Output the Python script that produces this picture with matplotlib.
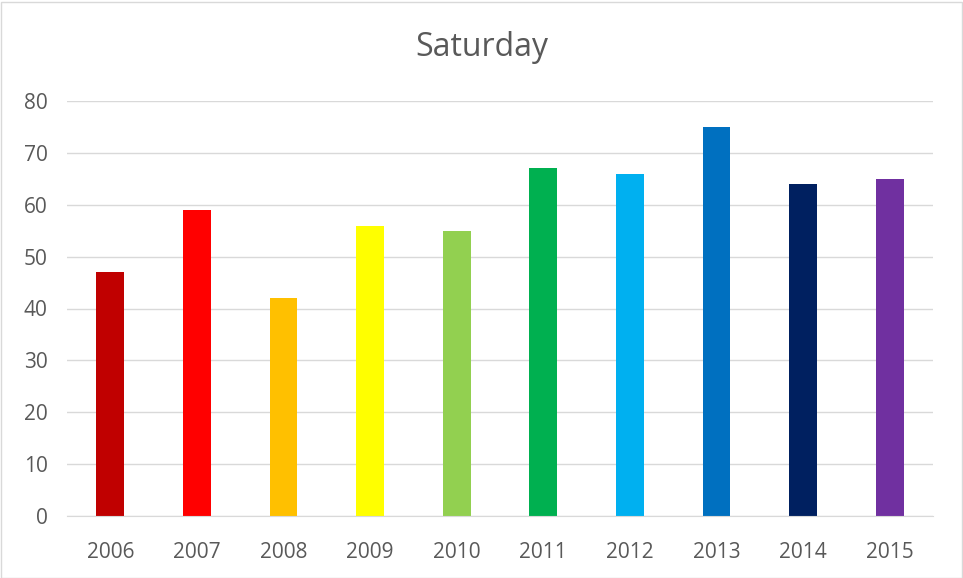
import matplotlib.pyplot as plt
from matplotlib.patches import Rectangle

years = ['2006', '2007', '2008', '2009', '2010', '2011', '2012', '2013', '2014', '2015']
values = [47, 59, 42, 56, 55, 67, 66, 75, 64, 65]
colors = ['#C00000', '#FF0000', '#FFC000', '#FFFF00', '#92D050',
          '#00B050', '#00B0F0', '#0070C0', '#002060', '#7030A0']

plt.rcParams['font.family'] = ['Open Sans', 'DejaVu Sans']

fig = plt.figure(figsize=(9.63, 5.78), dpi=100)
ax = fig.add_axes([67 / 963, 62 / 578, 866 / 963, 415 / 578])

x = range(len(years))
ax.bar(x, values, width=0.32, color=colors, zorder=3)

ax.set_xlim(-0.5, len(years) - 0.5)
ax.set_ylim(0, 80)
ax.set_yticks(range(0, 81, 10))
ax.set_xticks(list(x))
ax.set_xticklabels(years)
ax.grid(axis='y', color='#D9D9D9', linewidth=1, zorder=0)
ax.tick_params(length=0, labelsize=15, colors='#595959')
ax.tick_params(axis='x', pad=19)
ax.tick_params(axis='y', pad=14)
for s in ['top', 'right', 'left']:
    ax.spines[s].set_visible(False)
ax.spines['bottom'].set_color('#D9D9D9')
ax.spines['bottom'].set_zorder(4)

fig.text(0.5, 1 - 47 / 578, 'Saturday', ha='center', va='center',
         fontsize=23, color='#595959')

# chart border
fig.patches.append(Rectangle((0.5 / 963, 0.5 / 578), 961 / 963, 576 / 578,
                             transform=fig.transFigure, fill=False,
                             edgecolor='#D9D9D9', linewidth=1))

fig.savefig('out.png', dpi=100)
